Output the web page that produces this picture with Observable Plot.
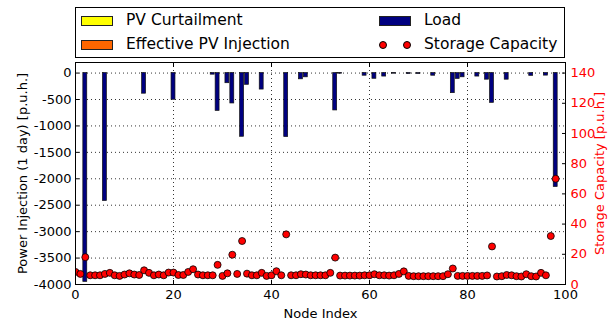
<!DOCTYPE html>
<html>
<head>
<meta charset="utf-8">
<script src="https://cdn.jsdelivr.net/npm/d3@7"></script>
<script src="https://cdn.jsdelivr.net/npm/@observablehq/plot@0.6"></script>
<style>
  body { margin: 0; background: #fff; }
  #wrap { position: relative; width: 610px; height: 325px; font-family: "DejaVu Sans", sans-serif; }
  #legend { position: absolute; left: 75px; top: 7px; width: 488px; height: 49px; border: 1px solid #000; background: #fff; font-size: 15.5px; color: #000; }
  .h { position: absolute; width: 32px; height: 10px; border: 1px solid #222; box-sizing: border-box; }
  .t { position: absolute; line-height: 18px; white-space: nowrap; }
  .d { position: absolute; width: 8px; height: 8px; border-radius: 50%; background: red; border: 1px solid #000; box-sizing: border-box; }
</style>
</head>
<body>
<div id="wrap"></div>
<script>
// ---- data ----
const legendLabels = ["PV Curtailment", "Effective PV Injection", "Load", "Storage Capacity"];
const xTicks = [0, 20, 40, 60, 80, 100];
const yTicks = [0, -500, -1000, -1500, -2000, -2500, -3000, -3500, -4000];
const rightTicks = [0, 20, 40, 60, 80, 100, 120, 140];

const load = [
  0, 0, -3950, 0, 0, 0, -2420, 0, 0, 0,
  0, 0, 0, 0, -390, 0, 0, 0, 0, 0,
  -505, 0, 0, 0, 0, 0, 0, 0, -30, -715,
  0, -192, -575, 0, -1205, -222, 0, 0, -312, 0,
  0, 0, 0, -1210, 0, 0, -118, -80, 0, 0,
  0, 0, 0, -707, -12, 0, 0, 0, 0, -50,
  0, -108, 0, -66, 0, -12, 0, 0, -18, 0,
  -18, 0, 0, -50, 0, 0, 0, -380, -110, -80,
  0, 0, -66, 0, -125, -563, 0, 0, -125, 0,
  0, 0, 0, -52, 0, 0, -48, 0, -2155
];
const pvCurtailment = [
  0,0,0,0,0,0,0,0,0,0, 0,0,0,0,0,0,0,0,0,0, 0,0,0,0,0,0,0,0,0,0,
  0,0,0,0,0,0,0,0,0,0, 0,0,0,0,0,0,0,0,0,0, 0,0,0,0,0,0,0,0,0,0,
  0,0,0,0,0,0,0,0,0,0, 0,0,0,0,0,0,0,0,0,0, 0,0,0,0,0,0,0,0,0,0,
  0,0,0,0,0,0,0,0,0
];
const pvInjection = [
  0,0,0,0,0,0,0,0,0,0, 0,0,0,0,0,0,0,0,0,0, 0,0,0,0,0,0,0,0,0,0,
  0,0,0,0,0,0,0,0,0,0, 0,0,0,0,0,0,0,0,0,0, 0,0,0,0,0,0,0,0,0,0,
  0,0,0,0,0,0,0,0,0,0, 0,0,0,0,0,0,0,0,0,0, 0,0,0,0,0,0,0,0,0,0,
  0,0,0,0,0,0,0,0,0
];
const storage = [
  8.3, 7.0, 18.1, 6.1, 6.1, 6.1, 7.0, 7.7, 6.1, 5.7,
  6.6, 7.4, 6.6, 6.3, 9.4, 7.7, 6.1, 6.6, 6.1, 7.9,
  7.9, 6.3, 6.3, 8.3, 10.1, 6.6, 6.1, 6.1, 6.1, 13.0,
  5.7, 7.4, 19.7, 7.0, 28.8, 7.2, 6.1, 6.1, 7.7, 5.7,
  6.1, 8.8, 6.1, 33.2, 6.1, 6.1, 6.8, 6.6, 6.1, 6.1,
  6.1, 6.1, 7.7, 17.8, 5.9, 5.9, 5.9, 5.9, 5.9, 6.1,
  6.1, 6.8, 6.1, 6.1, 5.9, 6.1, 7.0, 8.7, 5.7, 5.5,
  5.5, 5.5, 5.5, 5.5, 5.5, 5.5, 6.8, 10.6, 5.7, 5.7,
  5.7, 5.7, 5.7, 5.7, 6.0, 25.2, 5.3, 5.5, 6.3, 6.1,
  5.5, 5.3, 6.8, 5.5, 5.3, 7.7, 6.1, 32.1, 70.0
];

// ---- scales mapping ----
const leftDomain = [-4000, 200];
const rightDomain = [0, 147];
const toLeft = v => leftDomain[0] + (v - rightDomain[0]) * (leftDomain[1] - leftDomain[0]) / (rightDomain[1] - rightDomain[0]);
const fromLeft = y => rightDomain[0] + (y - leftDomain[0]) * (rightDomain[1] - rightDomain[0]) / (leftDomain[1] - leftDomain[0]);

const rows = load.map((v, i) => ({node: i, load: v, cap: storage[i], curt: pvCurtailment[i], inj: pvInjection[i]}));
const barW = 0.8;
const grid = {stroke: "black", strokeOpacity: 1, strokeWidth: 0.8, strokeDasharray: "1,3"};

const chart = Plot.plot({
  width: 610,
  height: 325,
  marginTop: 62,
  marginBottom: 41,
  marginLeft: 75,
  marginRight: 45,
  style: {fontFamily: "DejaVu Sans", fontSize: "13px", background: "white", color: "black", overflow: "visible"},
  x: {domain: [0, 100]},
  y: {domain: leftDomain},
  marks: [
    Plot.gridX(xTicks.slice(1, -1), grid),
    Plot.gridY(yTicks, grid),
    Plot.rect(rows.filter(d => d.load !== 0), {
      x1: d => d.node - barW / 2, x2: d => d.node + barW / 2,
      y1: 0, y2: "load",
      fill: "#000080", stroke: "#111", strokeWidth: 0.7
    }),
    Plot.dot(rows, {x: "node", y: d => toLeft(d.cap), r: 3.5, fill: "red", stroke: "black", strokeWidth: 0.8, clip: true}),
    Plot.frame({stroke: "black", strokeWidth: 1}),
    Plot.axisX({ticks: xTicks, tickSize: -4, tickPadding: 9, tickFormat: d => String(d),
      label: "Node Index", labelAnchor: "center", labelOffset: 33, labelArrow: "none"}),
    Plot.axisX({anchor: "top", ticks: xTicks, tickSize: -4, tickFormat: () => "", label: null}),
    Plot.axisY({ticks: yTicks, tickSize: -4, tickPadding: 8, tickFormat: d => d === 0 ? "0" : "-" + Math.abs(d),
      label: "Power Injection (1 day) [p.u.h.]", labelAnchor: "center", labelOffset: 58, labelArrow: "none"}),
    Plot.axisY({anchor: "right", ticks: rightTicks.map(toLeft), tickSize: -4, tickFormat: () => "", label: null}),
    Plot.axisY({anchor: "right", ticks: rightTicks.map(toLeft), tickSize: 0, tickPadding: 5, fill: "red",
      tickFormat: d => String(Math.round(fromLeft(d))),
      label: "Storage Capacity [p.u.h.]", labelAnchor: "center", labelOffset: 38, labelArrow: "none"})
  ]
});

const wrap = document.getElementById("wrap");
wrap.appendChild(chart);

// ---- legend ----
const legend = document.createElement("div");
legend.id = "legend";
const entries = [
  {label: legendLabels[0], kind: "rect", color: "#ffff00", x: 5, y: 13},
  {label: legendLabels[1], kind: "rect", color: "#ff6600", x: 5, y: 37},
  {label: legendLabels[2], kind: "rect", color: "#000080", x: 303, y: 13},
  {label: legendLabels[3], kind: "dots", color: "red", x: 303, y: 37}
];
for (const e of entries) {
  if (e.kind === "rect") {
    const h = document.createElement("div");
    h.className = "h";
    h.style.left = e.x + "px";
    h.style.top = (e.y - 5) + "px";
    h.style.background = e.color;
    legend.appendChild(h);
  } else {
    for (const dx of [4, 27.5]) {
      const d = document.createElement("div");
      d.className = "d";
      d.style.left = (e.x + dx - 4) + "px";
      d.style.top = (e.y - 4) + "px";
      legend.appendChild(d);
    }
  }
  const t = document.createElement("div");
  t.className = "t";
  t.textContent = e.label;
  t.style.left = (e.x + 45) + "px";
  t.style.top = (e.y - 10) + "px";
  legend.appendChild(t);
}
wrap.appendChild(legend);
</script>
</body>
</html>
